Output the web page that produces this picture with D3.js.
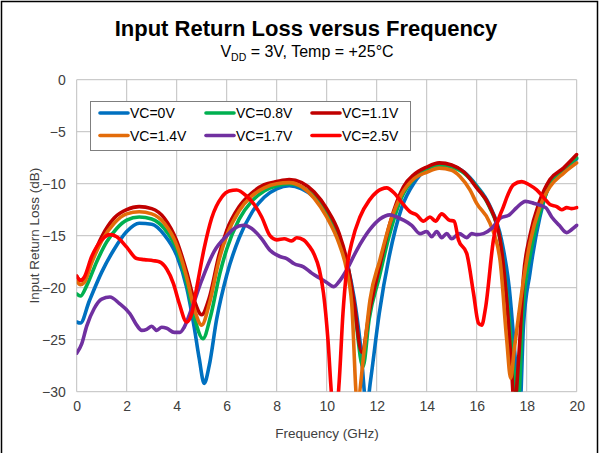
<!DOCTYPE html>
<html>
<head>
<meta charset="utf-8">
<script src="https://cdn.jsdelivr.net/npm/d3@7"></script>
<style>
  html, body { margin: 0; padding: 0; background: #fff; }
  svg { display: block; font-family: "Liberation Sans", Arial, sans-serif; }
</style>
</head>
<body>
<svg id="chart" width="600" height="453"></svg>
<script>
// ---------- DATA ----------
const chartTitle = "Input Return Loss versus Frequency";
const xAxisTitle = "Frequency (GHz)";
const yAxisTitle = "Input Return Loss (dB)";
const xTicks = [0, 2, 4, 6, 8, 10, 12, 14, 16, 18, 20];
const yTicks = [0, -5, -10, -15, -20, -25, -30];

const seriesNames = ["VC=0V", "VC=0.8V", "VC=1.1V", "VC=1.4V", "VC=1.7V", "VC=2.5V"];
const seriesColors = ["#0070C0", "#00B050", "#C00000", "#E36C0A", "#7030A0", "#FF0000"];

// VC=0V
const vc0Freq = [0, 0.15, 0.5, 1.0, 1.5, 2.0, 2.5, 3.0, 3.5, 4.0, 4.4, 4.7, 4.9, 5.1, 5.3, 5.6, 6.0, 6.5, 7.0, 7.5, 8.0, 8.5, 9.0, 9.5, 10.0, 10.5, 10.8, 11.1, 11.35, 11.6, 11.75, 12.1, 12.5, 13.0, 13.5, 14.0, 14.5, 15.0, 15.5, 16.0, 16.5, 17.0, 17.3, 17.55, 17.72, 17.87, 18.13, 18.53, 18.93, 19.47, 20];
const vc0Loss = [-23.3, -23.4, -21.3, -18.5, -16.3, -14.6, -13.8, -13.9, -14.9, -16.9, -20.0, -23.8, -26.8, -29.2, -27.5, -23.0, -18.8, -15.2, -12.8, -11.3, -10.5, -10.2, -10.5, -11.3, -12.8, -15.2, -17.5, -21.0, -25.5, -31.5, -29.0, -22.5, -17.0, -12.3, -9.9, -8.6, -8.2, -8.3, -8.9, -10.2, -12.0, -15.5, -20.0, -27.0, -32.0, -23.7, -18.6, -13.2, -10.0, -8.7, -7.6];

// VC=0.8V
const vc08Freq = [0, 0.15, 0.4, 0.8, 1.2, 1.6, 2.0, 2.5, 3.0, 3.5, 4.0, 4.4, 4.7, 5.05, 5.35, 5.73, 6.0, 6.5, 7.0, 7.5, 8.0, 8.5, 9.0, 9.5, 10.0, 10.5, 10.8, 11.1, 11.45, 11.7, 12.1, 12.5, 13.0, 13.5, 14.0, 14.5, 15.0, 15.5, 16.0, 16.5, 16.93, 17.2, 17.45, 17.65, 17.85, 18.13, 18.53, 18.93, 19.47, 20];
const vc08Loss = [-20.6, -20.8, -19.8, -17.5, -15.6, -14.3, -13.5, -13.2, -13.4, -14.3, -16.3, -19.5, -22.8, -24.9, -22.8, -18.6, -16.3, -13.4, -11.7, -10.7, -10.2, -10.0, -10.3, -11.2, -12.8, -15.2, -17.5, -21.8, -27.6, -23.0, -19.0, -15.0, -11.3, -9.5, -8.6, -8.2, -8.4, -9.0, -10.3, -12.2, -15.3, -20.5, -27.0, -31.5, -22.0, -17.0, -12.8, -10.1, -8.7, -7.5];

// VC=1.1V
const vc11Freq = [0, 0.15, 0.3, 0.6, 1.0, 1.5, 2.0, 2.5, 3.0, 3.5, 4.0, 4.4, 4.7, 5.0, 5.3, 5.7, 6.0, 6.5, 7.0, 7.5, 8.0, 8.5, 9.0, 9.5, 10.0, 10.5, 10.8, 11.1, 11.4, 11.73, 12.13, 12.53, 13.07, 13.5, 14.0, 14.5, 15.0, 15.5, 16.0, 16.5, 16.93, 17.2, 17.4, 17.5, 17.7, 17.87, 18.13, 18.5, 18.93, 19.47, 20];
const vc11Loss = [-18.9, -19.3, -19.2, -17.3, -15.1, -13.3, -12.5, -12.2, -12.4, -13.3, -15.5, -18.5, -21.2, -22.6, -21.0, -16.8, -14.5, -12.2, -10.9, -10.1, -9.8, -9.6, -9.9, -10.8, -12.4, -14.8, -17.3, -21.5, -26.2, -22.0, -17.8, -13.8, -10.3, -9.1, -8.4, -8.0, -8.2, -8.9, -10.4, -12.1, -15.3, -21.2, -28.0, -31.5, -26.0, -19.0, -15.0, -11.8, -9.6, -8.5, -7.2];

// VC=1.4V
const vc14Freq = [0, 0.15, 0.3, 0.6, 1.0, 1.5, 2.0, 2.5, 3.0, 3.5, 4.0, 4.4, 4.7, 5.0, 5.3, 5.7, 6.0, 6.5, 7.0, 7.5, 8.0, 8.5, 9.0, 9.5, 10.0, 10.5, 10.8, 11.0, 11.22, 11.5, 11.73, 12.13, 12.53, 13.0, 13.5, 14.0, 14.5, 15.0, 15.33, 15.73, 16.0, 16.53, 16.93, 17.2, 17.36, 17.5, 17.87, 18.13, 18.53, 18.93, 19.47, 20];
const vc14Loss = [-19.4, -19.7, -19.5, -17.6, -15.5, -13.8, -12.9, -12.7, -12.9, -13.8, -15.9, -19.0, -22.0, -23.6, -21.6, -17.3, -15.0, -12.6, -11.2, -10.4, -10.0, -9.9, -10.3, -11.4, -13.2, -15.8, -18.3, -21.5, -31.0, -26.0, -21.2, -17.3, -13.8, -11.0, -9.5, -8.9, -8.5, -8.7, -9.3, -10.6, -11.9, -13.8, -17.3, -25.0, -28.7, -26.0, -19.3, -15.7, -12.2, -10.3, -9.0, -8.0];

// VC=1.7V
const vc17Freq = [0, 0.2, 0.4, 0.7, 1.0, 1.33, 1.7, 2.13, 2.4, 2.6, 2.8, 3.0, 3.2, 3.4, 3.6, 3.9, 4.13, 4.3, 4.6, 5.0, 5.5, 6.0, 6.3, 6.67, 7.0, 7.4, 7.73, 8.13, 8.4, 8.7, 9.07, 9.4, 9.73, 10.0, 10.27, 10.5, 10.8, 11.2, 11.73, 12.13, 12.53, 12.8, 13.07, 13.4, 13.73, 14.0, 14.2, 14.4, 14.6, 14.8, 15.0, 15.3, 15.6, 15.8, 16.0, 16.27, 16.6, 16.95, 17.3, 17.6, 17.95, 18.3, 18.76, 19.0, 19.3, 19.6, 19.8, 20];
const vc17Loss = [-26.3, -25.4, -23.7, -22.0, -21.1, -20.9, -21.5, -22.5, -23.6, -24.1, -24.0, -23.7, -24.1, -23.8, -23.9, -24.3, -24.3, -23.8, -22.0, -19.3, -16.5, -15.0, -14.3, -14.0, -14.3, -15.3, -16.4, -17.0, -17.2, -17.7, -18.0, -18.6, -19.1, -19.5, -19.9, -19.4, -18.3, -16.4, -14.4, -13.4, -13.0, -13.2, -13.5, -14.0, -14.8, -14.6, -15.1, -14.6, -15.2, -14.8, -15.3, -14.8, -15.2, -14.8, -14.9, -14.8, -14.3, -13.3, -13.0, -12.3, -11.7, -11.9, -12.3, -13.2, -14.0, -14.7, -14.4, -14.0];

// VC=2.5V
const vc25Freq = [0, 0.15, 0.3, 0.6, 1.0, 1.33, 1.6, 2.0, 2.4, 2.7, 3.07, 3.3, 3.6, 3.87, 4.1, 4.4, 4.6, 4.8, 5.1, 5.4, 5.8, 6.1, 6.4, 6.8, 7.1, 7.4, 7.73, 8.0, 8.3, 8.6, 8.8, 9.07, 9.3, 9.5, 9.7, 9.87, 10.05, 10.2, 10.35, 10.5, 10.65, 10.8, 11.0, 11.33, 11.7, 12.0, 12.4, 12.7, 13.0, 13.33, 13.6, 13.87, 14.13, 14.35, 14.6, 14.9, 15.1, 15.27, 15.6, 15.87, 16.07, 16.2, 16.35, 16.67, 17.07, 17.47, 17.8, 18.1, 18.4, 18.7, 18.93, 19.2, 19.4, 19.6, 19.8, 20];
const vc25Loss = [-18.9, -19.3, -19.0, -17.0, -15.4, -14.9, -15.1, -16.1, -17.2, -17.3, -17.4, -17.5, -18.2, -19.6, -21.5, -23.3, -22.5, -20.0, -16.2, -13.3, -11.3, -10.7, -10.6, -11.2, -12.0, -13.2, -15.0, -15.4, -15.3, -15.5, -15.2, -15.4, -16.0, -16.8, -18.2, -20.5, -25.0, -30.5, -33.0, -29.0, -22.5, -18.3, -15.7, -13.2, -11.6, -10.8, -10.4, -10.9, -11.8, -12.7, -13.0, -13.6, -13.2, -13.6, -12.9, -13.5, -13.6, -15.4, -16.7, -20.5, -23.4, -23.6, -22.0, -15.4, -12.2, -10.1, -9.8, -10.1, -10.6, -11.4, -12.0, -12.2, -12.5, -12.3, -12.4, -12.3];

const seriesFreqs = [vc0Freq, vc08Freq, vc11Freq, vc14Freq, vc17Freq, vc25Freq];
const seriesLosses = [vc0Loss, vc08Loss, vc11Loss, vc14Loss, vc17Loss, vc25Loss];

// ---------- DRAW ----------
const svg = d3.select("#chart");
const W = 600, H = 453;
const plot = { left: 76.7, top: 79.7, right: 576.7, bottom: 391.7 };

const x = d3.scaleLinear().domain([0, 20]).range([plot.left, plot.right]);
const y = d3.scaleLinear().domain([-30, 0]).range([plot.bottom, plot.top]);

// outer frame
svg.append("rect").attr("x", 0).attr("y", 0).attr("width", W).attr("height", H).attr("fill", "#fff");
svg.append("path")
  .attr("d", `M1.5,${H} L1.5,1.5 L597.5,1.5 L597.5,${H}`)
  .attr("fill", "none").attr("stroke", "#000").attr("stroke-width", 1.5);

// titles
svg.append("text").attr("x", 306).attr("y", 36).attr("text-anchor", "middle")
  .attr("font-size", 22).attr("font-weight", "bold").attr("fill", "#000").text(chartTitle);
const sub = svg.append("text").attr("x", 307).attr("y", 57).attr("text-anchor", "middle")
  .attr("font-size", 16).attr("fill", "#000");
sub.append("tspan").text("V");
sub.append("tspan").attr("font-size", 10.5).attr("dy", 4).text("DD");
sub.append("tspan").attr("dy", -4).text(" = 3V, Temp = +25°C");

// grid
const grid = svg.append("g");
grid.selectAll("line.vx").data(xTicks).join("line")
  .attr("x1", d => x(d)).attr("x2", d => x(d))
  .attr("y1", plot.top).attr("y2", plot.bottom)
  .attr("stroke", "#bfbfbf").attr("stroke-width", 1);
grid.selectAll("line.hy").data(yTicks).join("line")
  .attr("x1", plot.left).attr("x2", plot.right)
  .attr("y1", d => y(d)).attr("y2", d => y(d))
  .attr("stroke", "#bfbfbf").attr("stroke-width", 1);

// axes (labels only)
const xAxis = svg.append("g").attr("transform", `translate(0,${plot.bottom})`)
  .call(d3.axisBottom(x).tickValues(xTicks).tickSize(0).tickPadding(9).tickFormat(d3.format("d")));
const yAxis = svg.append("g").attr("transform", `translate(${plot.left},0)`)
  .call(d3.axisLeft(y).tickValues(yTicks).tickSize(0).tickPadding(11).tickFormat(d3.format("d")));
[xAxis, yAxis].forEach(a => {
  a.select(".domain").remove();
  a.selectAll("text").attr("font-size", 14).attr("fill", "#404040")
    .attr("font-family", "Liberation Sans, Arial, sans-serif");
});

svg.append("text").attr("x", 327).attr("y", 438).attr("text-anchor", "middle")
  .attr("font-size", 13.5).attr("fill", "#404040").text(xAxisTitle);
svg.append("text").attr("transform", `translate(39,${(plot.top + plot.bottom) / 2}) rotate(-90)`)
  .attr("text-anchor", "middle").attr("font-size", 13.5).attr("fill", "#404040").text(yAxisTitle);

// clip
svg.append("clipPath").attr("id", "clip").append("rect")
  .attr("x", plot.left).attr("y", plot.top - 2)
  .attr("width", plot.right - plot.left + 2).attr("height", plot.bottom - plot.top + 2);

const line = d3.line().x(d => x(d[0])).y(d => y(d[1])).curve(d3.curveMonotoneX);
const lines = svg.append("g").attr("clip-path", "url(#clip)");
seriesNames.forEach((name, i) => {
  const pts = seriesFreqs[i].map((f, j) => [f, seriesLosses[i][j]]);
  lines.append("path").datum(pts)
    .attr("d", line).attr("fill", "none")
    .attr("stroke", seriesColors[i]).attr("stroke-width", 3.6)
    .attr("stroke-linejoin", "round").attr("stroke-linecap", "round");
});

// legend
const lg = svg.append("g");
lg.append("rect").attr("x", 90.5).attr("y", 101.5).attr("width", 320).attr("height", 49)
  .attr("fill", "#fff").attr("stroke", "#7f7f7f").attr("stroke-width", 1);
seriesNames.forEach((name, i) => {
  const col = i % 3, row = Math.floor(i / 3);
  const lx = 100 + col * 106, ly = 113 + row * 22.5;
  lg.append("line").attr("x1", lx).attr("x2", lx + 28).attr("y1", ly).attr("y2", ly)
    .attr("stroke", seriesColors[i]).attr("stroke-width", 3.6).attr("stroke-linecap", "round");
  lg.append("text").attr("x", lx + 30).attr("y", ly + 5).attr("font-size", 14)
    .attr("fill", "#000").text(name);
});
</script>
</body>
</html>
